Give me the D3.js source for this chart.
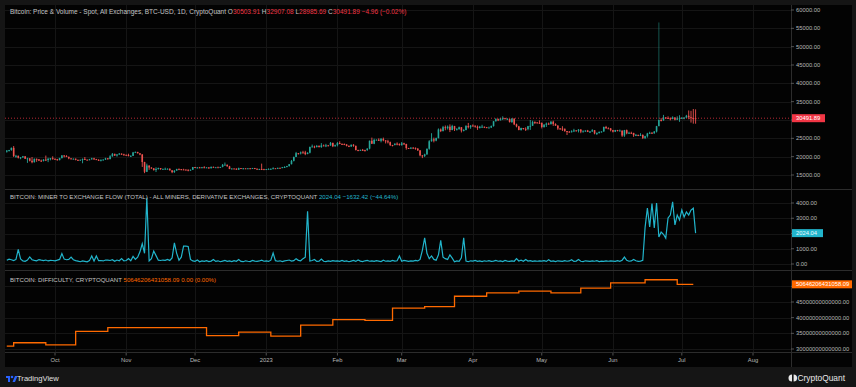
<!DOCTYPE html>
<html>
<head>
<meta charset="utf-8">
<script src="https://cdn.jsdelivr.net/npm/d3@7"></script>
<style>
    html, body { margin: 0; padding: 0; background: #151515; }
    svg { display: block; font-family: "Liberation Sans", Arial, sans-serif; }
</style>
</head>
<body>
<svg id="chart" width="856" height="387"></svg>
<script>
// daily candles from 2022-09-10 to 2023-07-07, prices in thousand USD
const firstDay = new Date(2022, 8, 10);
const firstOpen = 21.36;

const priceClose = [
    // Sep 10 - 30
    21.65, 21.82, 22.40, 20.17, 20.23, 19.70, 19.80, 20.11, 19.42, 19.54, 18.88, 18.49, 19.41, 19.29, 18.92, 18.80, 19.22, 19.08, 19.41, 19.59, 19.42,
    // Oct
    19.31, 19.06, 19.62, 20.34, 20.16, 19.96, 19.53, 19.42, 19.45, 19.13, 19.06, 19.16, 19.38, 19.19, 19.07, 19.27, 19.55, 19.33, 19.13, 19.04, 19.16, 19.20, 19.57, 19.33, 20.09, 20.77, 20.29, 20.60, 20.82, 20.63, 20.49,
    // Nov
    20.48, 20.15, 20.21, 21.15, 21.30, 20.91, 20.59, 18.54, 15.88, 17.59, 17.04, 16.80, 16.35, 16.62, 16.90, 16.66, 16.69, 16.70, 16.70, 16.28, 15.78, 16.19, 16.61, 16.60, 16.52, 16.46, 16.44, 16.22, 16.44, 17.17,
    // Dec
    16.98, 17.09, 16.89, 17.11, 16.97, 17.09, 16.84, 17.22, 17.13, 17.13, 17.09, 17.21, 17.78, 17.81, 17.36, 16.63, 16.78, 16.74, 16.44, 16.90, 16.82, 16.83, 16.78, 16.84, 16.83, 16.92, 16.70, 16.55, 16.63, 16.60, 16.54,
    // Jan
    16.62, 16.68, 16.68, 16.85, 16.83, 16.95, 16.94, 17.13, 17.18, 17.44, 17.94, 18.85, 19.93, 20.95, 20.87, 21.17, 21.16, 20.69, 21.08, 22.68, 22.78, 22.71, 22.92, 22.63, 23.06, 23.01, 23.08, 23.03, 23.77, 22.84, 23.14,
    // Feb
    23.73, 23.49, 23.43, 23.33, 22.94, 22.76, 23.26, 22.96, 21.80, 21.63, 21.86, 21.79, 21.78, 22.20, 24.33, 23.52, 24.57, 24.63, 24.31, 24.84, 24.44, 24.19, 23.95, 23.20, 23.16, 23.56, 23.49, 23.15,
    // Mar
    23.65, 23.47, 22.36, 22.35, 22.43, 22.41, 22.20, 21.70, 20.36, 20.19, 20.63, 22.16, 24.20, 24.74, 24.38, 25.05, 27.42, 26.97, 28.04, 27.77, 28.18, 27.27, 28.35, 27.48, 27.49, 28.03, 27.13, 27.26, 28.35, 28.03, 28.48,
    // Apr
    28.45, 28.20, 27.80, 28.17, 28.18, 28.04, 27.92, 27.95, 28.33, 29.65, 30.24, 29.90, 30.40, 30.49, 30.32, 30.32, 29.45, 30.40, 28.82, 28.25, 27.28, 27.82, 27.59, 27.52, 28.31, 28.42, 29.48, 29.34, 29.25, 29.23,
    // May
    28.09, 28.68, 29.03, 28.85, 29.53, 28.90, 28.45, 27.69, 27.66, 27.63, 26.99, 26.80, 26.78, 26.93, 27.17, 27.03, 27.40, 26.83, 26.89, 27.12, 26.76, 26.85, 27.23, 26.33, 26.48, 26.72, 26.87, 28.09, 27.75, 27.70, 27.22,
    // Jun
    26.82, 27.25, 27.07, 27.12, 25.76, 27.24, 26.35, 26.50, 26.48, 25.85, 25.94, 25.90, 25.92, 25.12, 25.58, 26.33, 26.51, 26.34, 26.85, 28.31, 30.00, 29.89, 30.69, 30.55, 30.47, 30.27, 30.69, 30.08, 30.45, 30.48,
    // Jul 1 - 7
    30.59, 30.62, 31.16, 30.77, 30.51, 30.50391, 30.49189
];

const priceHigh = [
    21.8, 21.86, 22.5, 22.9, 20.5, 20.3, 19.9, 20.2, 20.1, 19.7, 19.6, 19.9, 19.5, 19.5, 19.3, 19.2, 19.3, 20.3, 19.7, 19.6, 20.1,
    19.5, 19.4, 19.7, 20.4, 20.4, 20.4, 20.0, 19.6, 19.5, 19.5, 19.2, 19.2, 19.5, 19.9, 19.2, 19.4, 19.7, 19.7, 19.4, 19.3, 19.2, 19.3, 19.7, 19.6, 20.4, 21.0, 20.8, 20.7, 21.0, 20.9, 20.8,
    20.6, 20.8, 20.4, 21.3, 21.4, 21.3, 21.0, 20.7, 18.6, 18.1, 17.6, 17.1, 16.9, 17.1, 17.0, 16.9, 16.7, 17.0, 16.8, 16.8, 16.3, 16.3, 16.7, 16.8, 16.6, 16.7, 16.6, 16.5, 16.5, 17.2,
    17.2, 17.1, 17.2, 17.2, 17.4, 17.1, 17.1, 17.3, 17.3, 17.2, 17.3, 17.2, 18.0, 18.4, 17.8, 17.5, 16.8, 16.8, 16.8, 17.0, 16.9, 16.9, 16.9, 16.9, 16.9, 16.9, 16.9, 16.8, 16.7, 18.1, 16.7,
    16.6, 16.8, 16.8, 17.1, 16.9, 17.0, 17.0, 17.2, 17.4, 17.5, 18.0, 19.1, 20.0, 21.3, 21.0, 21.4, 21.6, 21.6, 21.2, 22.7, 23.3, 23.0, 23.2, 23.1, 23.7, 23.3, 23.5, 23.2, 24.0, 23.8, 23.3,
    24.0, 24.2, 23.6, 23.6, 23.4, 23.1, 23.3, 23.4, 23.0, 21.9, 21.9, 22.1, 21.9, 22.3, 24.4, 25.2, 24.9, 24.7, 25.0, 25.1, 25.2, 24.5, 24.6, 24.1, 23.2, 23.6, 23.9, 23.6,
    24.0, 23.8, 23.5, 22.4, 22.6, 22.6, 22.5, 22.3, 21.8, 20.4, 20.8, 22.2, 24.5, 26.4, 25.2, 25.2, 27.7, 27.7, 28.4, 28.5, 28.5, 28.8, 28.7, 28.4, 27.8, 28.2, 28.0, 27.5, 28.6, 29.2, 28.6,
    28.8, 28.5, 28.5, 28.4, 28.7, 28.2, 28.1, 28.2, 28.5, 29.7, 30.5, 30.4, 30.6, 31.0, 30.6, 30.5, 30.3, 30.5, 30.4, 29.0, 28.4, 27.9, 27.8, 28.0, 28.4, 30.0, 29.8, 29.6, 29.4, 29.9,
    29.3, 28.9, 29.3, 29.3, 29.7, 29.8, 29.1, 28.6, 27.8, 28.3, 27.6, 27.0, 27.0, 27.2, 27.6, 27.2, 27.5, 27.5, 27.2, 27.2, 27.3, 27.0, 27.5, 27.2, 26.6, 26.9, 26.9, 28.2, 28.4, 28.0, 27.8,
    27.3, 27.3, 27.3, 27.4, 27.1, 27.3, 27.4, 26.8, 26.8, 26.5, 26.2, 26.0, 26.4, 26.1, 25.7, 26.5, 26.8, 26.7, 27.0, 28.4, 56.6, 30.5, 31.4, 30.8, 31.0, 30.7, 31.0, 30.7, 31.0, 31.3,
    30.8, 30.8, 31.4, 32.6, 32.5, 33.0, 32.90708
];

const priceLow = [
    21.1, 21.4, 21.6, 19.9, 19.7, 19.5, 19.3, 19.7, 19.4, 18.3, 18.7, 18.2, 18.4, 18.6, 18.8, 18.6, 18.7, 18.8, 18.5, 19.0, 19.2,
    19.2, 18.9, 19.0, 19.5, 19.8, 19.9, 19.3, 19.3, 19.3, 19.0, 18.9, 19.0, 18.2, 19.1, 19.0, 19.1, 19.2, 19.1, 19.1, 18.9, 18.7, 19.1, 19.1, 19.2, 19.3, 20.0, 20.2, 20.0, 20.6, 20.5, 20.3,
    20.4, 20.1, 20.0, 20.2, 21.1, 20.9, 20.4, 17.2, 15.5, 15.8, 16.4, 16.7, 16.2, 15.8, 16.5, 16.4, 16.5, 16.6, 16.6, 16.2, 15.5, 15.6, 16.2, 16.5, 16.3, 16.4, 16.4, 16.0, 16.2, 16.4,
    16.9, 16.8, 16.9, 16.9, 16.9, 16.9, 16.7, 16.8, 17.1, 17.1, 17.1, 16.9, 17.1, 17.7, 17.3, 16.6, 16.6, 16.7, 16.4, 16.4, 16.8, 16.6, 16.8, 16.8, 16.7, 16.8, 16.6, 16.5, 16.5, 16.4, 16.5,
    16.5, 16.6, 16.6, 16.7, 16.8, 16.7, 16.9, 16.9, 17.1, 17.1, 17.3, 17.9, 18.7, 19.9, 20.6, 20.6, 20.9, 20.4, 20.7, 20.9, 22.6, 22.3, 22.5, 22.5, 22.4, 22.9, 22.6, 22.9, 23.0, 22.6, 22.7,
    22.8, 23.4, 23.2, 23.2, 22.8, 22.6, 22.7, 22.7, 21.7, 21.5, 21.6, 21.6, 21.4, 21.6, 22.0, 23.5, 23.4, 24.5, 24.3, 23.9, 24.2, 23.6, 23.6, 22.9, 22.8, 23.1, 23.1, 23.0,
    23.0, 23.2, 21.9, 22.2, 22.2, 22.3, 21.9, 21.6, 20.1, 19.6, 19.9, 20.5, 21.9, 24.1, 23.9, 24.2, 25.0, 26.7, 26.9, 27.2, 27.4, 26.7, 27.2, 27.0, 27.2, 27.4, 26.6, 26.9, 27.2, 27.7, 27.6,
    28.3, 27.9, 27.3, 27.7, 27.9, 27.8, 27.8, 27.9, 27.8, 28.2, 29.6, 29.7, 29.9, 30.0, 30.2, 30.1, 29.3, 29.2, 28.6, 28.0, 27.2, 27.1, 27.4, 27.0, 27.2, 27.3, 28.4, 28.9, 29.1, 29.0,
    27.7, 27.9, 28.1, 28.7, 28.8, 28.4, 28.4, 27.3, 27.4, 27.0, 26.8, 25.9, 26.7, 26.6, 26.7, 26.9, 26.6, 26.4, 26.7, 26.8, 26.7, 26.5, 26.8, 26.1, 25.9, 26.3, 26.6, 26.8, 27.6, 27.6, 26.9,
    26.6, 26.7, 26.9, 27.0, 25.4, 25.4, 26.1, 26.3, 26.3, 25.4, 25.6, 25.6, 25.7, 24.8, 24.8, 25.2, 26.2, 26.3, 26.3, 26.6, 28.3, 29.6, 29.8, 30.3, 30.3, 29.9, 30.2, 29.9, 30.0, 29.5,
    30.3, 30.2, 30.6, 30.2, 29.3, 29.0, 28.98569
];

// miner to exchange flow, BTC per day, same days as the candles
const flowValues = [
    250, 320, 280, 230, 300, 960, 330, 200, 180, 260, 460, 280, 240, 210, 290, 250, 220, 260, 200, 240, 230,
    210, 250, 300, 680, 320, 280, 300, 450, 280, 220, 190, 150, 200, 170, 140, 220, 530, 200, 530, 220, 230, 200, 260, 250, 230, 280, 180, 260, 210, 350, 200,
    230, 350, 210, 500, 300, 450, 800, 1330, 700, 4340, 200, 350, 850, 550, 250, 230, 260, 240, 300, 230, 400, 1390, 700, 250, 450, 1170, 1170, 1150, 300, 200,
    180, 260, 150, 200, 170, 220, 160, 190, 300, 170, 210, 150, 190, 230, 170, 200, 160, 220, 180, 290, 170, 150, 210, 180, 160, 230, 190, 170, 200, 250, 180,
    200, 170, 250, 720, 220, 180, 210, 160, 200, 230, 260, 190, 220, 350, 240, 210, 350, 450, 3460, 200, 230, 300, 170, 190, 330, 180, 160, 200, 170, 220, 190,
    210, 180, 240, 170, 200, 150, 190, 230, 170, 260, 190, 160, 210, 240, 180, 200, 170, 220, 190, 160, 250, 180, 200, 170, 230, 190, 210, 530,
    180, 230, 200, 170, 210, 190, 240, 200, 300, 900, 1720, 700, 350, 530, 300, 250, 600, 1550, 450, 350, 300, 600, 380, 150, 200, 180, 400, 1720, 200, 150, 210,
    190, 230, 170, 200, 160, 210, 180, 220, 170, 190, 240, 180, 200, 160, 230, 190, 170, 210, 180, 350, 200, 250, 180, 300, 190, 220, 170, 200, 180, 210,
    190, 220, 170, 280, 180, 200, 160, 210, 190, 170, 220, 180, 200, 280, 170, 190, 290, 180, 160, 210, 190, 170, 200, 180, 220, 160, 190, 170, 210, 180, 200,
    190, 170, 220, 180, 250, 450, 240, 180, 200, 300, 210, 170, 190, 240, 2400, 3670, 2430, 3970, 2360, 4000, 1770, 2100, 1950, 1700, 3020, 3210, 4070, 2560, 3210, 2890,
    3540, 3080, 3410, 3210, 3540, 3656.46, 2024.04
];

// network difficulty (trillions) at each adjustment shown on the chart
const diffDates = ['2022-09-10', '2022-09-13', '2022-09-27', '2022-10-10', '2022-10-24', '2022-12-06', '2022-12-20',
    '2023-01-03', '2023-01-16', '2023-01-30', '2023-02-13', '2023-02-25', '2023-03-11', '2023-03-24', '2023-04-07',
    '2023-04-21', '2023-05-05', '2023-05-18', '2023-05-31', '2023-06-15', '2023-06-29', '2023-07-06'];
const diffValues = [30.9, 32.0, 31.3, 35.6, 36.8, 34.24, 35.36, 34.09, 37.59, 39.35, 39.16, 43.05, 43.55, 46.84,
    47.89, 48.5, 47.9, 49.4, 51.1, 52.1, 50.646, 50.646];

const priceTicks = [15, 20, 25, 30, 35, 40, 45, 50, 55, 60];
const flowTicks = [0, 1000, 2000, 3000, 4000];
const diffTicks = [30, 35, 40, 45, 50];

const priceTitle = 'Bitcoin: Price & Volume - Spot, All Exchanges, BTC-USD, 1D, CryptoQuant';
const flowTitle = 'BITCOIN: MINER TO EXCHANGE FLOW (TOTAL) - ALL MINERS, DERIVATIVE EXCHANGES, CRYPTOQUANT';
const diffTitle = 'BITCOIN: DIFFICULTY, CRYPTOQUANT';

const upColor = '#26a69a', downColor = '#ef5350';
const flowColor = '#22b5cc', diffColor = '#ff6a00';
const textColor = '#c4c4c4';

const svg = d3.select('#chart');
const plotL = 5, plotR = 791, boxR = 852;

// frame
svg.append('rect').attr('width', 856).attr('height', 387).attr('fill', '#151515');
svg.append('rect').attr('x', plotL).attr('y', 5).attr('width', boxR - plotL).attr('height', 362).attr('fill', '#030303');

const x = d3.scaleTime()
    .domain([new Date(2022, 9, 1), new Date(2023, 7, 1)])
    .range([55, 753]);

const yPrice = d3.scaleLinear().domain([15, 60]).range([175, 10]);
const yFlow = d3.scaleLinear().domain([0, 4000]).range([264, 203]);
const yDiff = d3.scaleLinear().domain([30, 45]).range([349, 302]);

const days = priceClose.map(function (c, i) { return d3.timeDay.offset(firstDay, i); });

const candles = priceClose.map(function (c, i) {
    let o = i === 0 ? firstOpen : priceClose[i - 1];
    return {
        date: days[i],
        open: o,
        close: c,
        high: Math.max(priceHigh[i], o, c),
        low: Math.min(priceLow[i], o, c)
    };
});

const months = d3.timeMonth.range(new Date(2022, 9, 1), new Date(2023, 8, 1));

// grid
const grid = svg.append('g').attr('stroke', '#151515').attr('stroke-width', 1);
months.forEach(function (m) {
    grid.append('line')
        .attr('x1', Math.round(x(m)) + 0.5).attr('x2', Math.round(x(m)) + 0.5)
        .attr('y1', 5).attr('y2', 352);
});
[[priceTicks, yPrice], [flowTicks, yFlow], [diffTicks, yDiff]].forEach(function (p) {
    p[0].forEach(function (t) {
        let yy = Math.round(p[1](t)) + 0.5;
        grid.append('line').attr('x1', plotL).attr('x2', plotR).attr('y1', yy).attr('y2', yy);
    });
});

// separators
const sep = svg.append('g').attr('stroke', '#2c2c2c').attr('stroke-width', 1);
[189.5, 270.5, 352.5].forEach(function (yy) {
    sep.append('line').attr('x1', plotL).attr('x2', boxR).attr('y1', yy).attr('y2', yy);
});
sep.append('line').attr('x1', plotR + 0.5).attr('x2', plotR + 0.5).attr('y1', 5).attr('y2', 367);

// clip for plots
svg.append('clipPath').attr('id', 'plotClip')
    .append('rect').attr('x', plotL).attr('y', 5).attr('width', plotR - plotL).attr('height', 347);

// candles
const cg = svg.append('g').attr('clip-path', 'url(#plotClip)');
cg.selectAll('.wick')
    .data(candles)
    .enter()
    .append('line')
    .attr('class', 'wick')
    .attr('x1', function (d) { return x(d.date); })
    .attr('x2', function (d) { return x(d.date); })
    .attr('y1', function (d) { return yPrice(d.high); })
    .attr('y2', function (d) { return yPrice(d.low); })
    .attr('stroke', function (d) { return d.close >= d.open ? upColor : downColor; })
    .attr('stroke-width', 0.9)
    .attr('opacity', function (d) { return d.high > 40 ? 0.55 : 1; });

cg.selectAll('.body')
    .data(candles)
    .enter()
    .append('rect')
    .attr('class', 'body')
    .attr('x', function (d) { return x(d.date) - 0.8; })
    .attr('width', 1.6)
    .attr('y', function (d) { return yPrice(Math.max(d.open, d.close)); })
    .attr('height', function (d) { return Math.max(1, Math.abs(yPrice(d.open) - yPrice(d.close))); })
    .attr('fill', function (d) { return d.close >= d.open ? upColor : downColor; });

// last price line
const lastPrice = priceClose[priceClose.length - 1];
svg.append('line')
    .attr('x1', plotL).attr('x2', plotR)
    .attr('y1', yPrice(lastPrice)).attr('y2', yPrice(lastPrice))
    .attr('stroke', '#f23645').attr('stroke-width', 1).attr('stroke-dasharray', '1,2').attr('opacity', 0.75);

// flow line
const flowLine = d3.line()
    .x(function (d, i) { return x(days[i]); })
    .y(function (d) { return yFlow(d); });
cg.append('path')
    .datum(flowValues)
    .attr('d', flowLine)
    .attr('fill', 'none')
    .attr('stroke', flowColor)
    .attr('stroke-width', 1.2);

// difficulty step line
const diffLine = d3.line()
    .x(function (d) { return x(d3.timeParse('%Y-%m-%d')(d[0])); })
    .y(function (d) { return yDiff(d[1]); })
    .curve(d3.curveStepAfter);
cg.append('path')
    .datum(diffDates.map(function (d, i) { return [d, diffValues[i]]; }))
    .attr('d', diffLine)
    .attr('fill', 'none')
    .attr('stroke', diffColor)
    .attr('stroke-width', 1.3);

// right axes (labels under a value box are hidden, as TradingView does)
const fmt = d3.format('.2f');
const lastFlow = flowValues[flowValues.length - 1];
const lastDiff = 50.64620643105809;
const ax = svg.append('g').attr('font-size', 5.8).attr('fill', '#b8b8b8');
function rightAxis(ticks, scale, mult, boxY) {
    ticks.forEach(function (t) {
        let yy = scale(t);
        ax.append('line').attr('x1', plotR).attr('x2', plotR + 3).attr('y1', yy).attr('y2', yy)
            .attr('stroke', '#666').attr('stroke-width', 0.8);
        if (Math.abs(yy - boxY) < 8) return;
        ax.append('text').attr('x', plotR + 5).attr('y', yy).attr('dy', '0.35em').text(fmt(t * mult));
    });
}
rightAxis(priceTicks, yPrice, 1000, yPrice(lastPrice));
rightAxis(flowTicks, yFlow, 1, yFlow(lastFlow));
rightAxis(diffTicks, yDiff, 1e12, yDiff(lastDiff));

function valueBox(yy, w, color, label, txtColor) {
    svg.append('rect').attr('x', plotR + 1).attr('y', yy - 4).attr('width', w).attr('height', 8).attr('fill', color);
    svg.append('text').attr('x', plotR + 5).attr('y', yy).attr('dy', '0.35em')
        .attr('font-size', 5.8).attr('fill', txtColor).text(label);
}
valueBox(yPrice(lastPrice), 33, '#f23645', fmt(lastPrice * 1000), '#ffffff');
valueBox(yFlow(lastFlow), 31, '#22b5cc', fmt(lastFlow), '#eafcff');
valueBox(yDiff(lastDiff), 60, '#ff6a00', '50646206431058.09', '#ffffff');

// x axis
const xa = svg.append('g').attr('font-size', 5.8).attr('fill', '#b8b8b8').attr('text-anchor', 'middle');
months.forEach(function (m) {
    let xx = x(m);
    xa.append('line').attr('x1', xx).attr('x2', xx).attr('y1', 353).attr('y2', 355.5)
        .attr('stroke', '#666').attr('stroke-width', 0.8);
    xa.append('text').attr('x', xx).attr('y', 362)
        .text(m.getMonth() === 0 ? d3.timeFormat('%Y')(m) : d3.timeFormat('%b')(m));
});

// titles
const t1 = svg.append('text').attr('x', 10).attr('y', 13.5).attr('font-size', 6.5).attr('fill', textColor);
t1.append('tspan').text(priceTitle + '  ');
[['O', '30503.91'], ['H', '32907.08'], ['L', '28985.69'], ['C', '30491.89']].forEach(function (p) {
    t1.append('tspan').text(p[0]);
    t1.append('tspan').attr('fill', '#f23645').text(p[1] + ' ');
});
t1.append('tspan').attr('fill', '#f23645').text('\u22124.96 (\u22120.02%)');

const t2 = svg.append('text').attr('x', 10).attr('y', 199).attr('font-size', 6.1).attr('fill', textColor);
t2.append('tspan').text(flowTitle + '  ');
t2.append('tspan').attr('fill', flowColor).text('2024.04  \u22121632.42 (\u221244.64%)');

const t3 = svg.append('text').attr('x', 10).attr('y', 282).attr('font-size', 6.1).attr('fill', textColor);
t3.append('tspan').text(diffTitle + '  ');
t3.append('tspan').attr('fill', diffColor).text('50646206431058.09  0.00 (0.00%)');

// footer logos
const tv = svg.append('g').attr('transform', 'translate(6,373)');
tv.append('path').attr('d', 'M0 3h4v6h-2v-4h-2z').attr('fill', '#2962ff');
tv.append('circle').attr('cx', 6).attr('cy', 4).attr('r', 1.3).attr('fill', '#2962ff');
tv.append('path').attr('d', 'M6.5 9l2.5-6h2.5l-2.5 6z').attr('fill', '#2962ff');
tv.append('text').attr('x', 11).attr('y', 8.3).attr('font-size', 7.6).attr('fill', '#e0e0e0').text('TradingView');

const cq = svg.append('g').attr('transform', 'translate(789,373)');
cq.append('path').attr('d', 'M3 1.5a3.5 3.5 0 0 0 0 7z').attr('fill', '#e8e8e8');
cq.append('path').attr('d', 'M4 1.5a3.5 3.5 0 0 1 0 7z').attr('fill', '#e8e8e8').attr('transform', 'translate(0.6,0)');
cq.append('text').attr('x', 8.5).attr('y', 8.2).attr('font-size', 8.4).attr('fill', '#e8e8e8').text('CryptoQuant');
</script>
</body>
</html>
